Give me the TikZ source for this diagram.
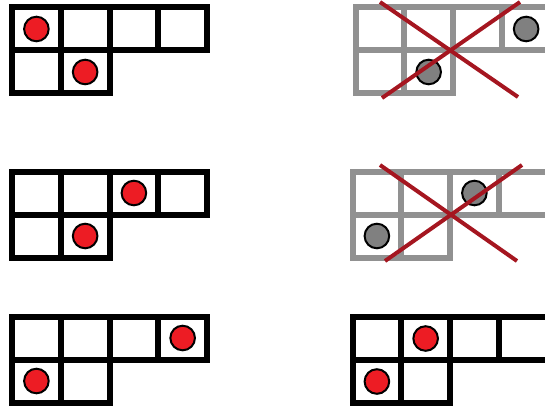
\documentclass[tikz,border=0pt]{standalone}
\begin{document}
\begin{tikzpicture}[x=1pt,y=-1pt,
  gridline/.style={line width=6pt,line join=miter,line cap=rect},
  dotred/.style={draw=black,line width=2pt,fill=dotfill},
  dotgray/.style={draw=black,line width=2pt,fill=dotgrayfill},
  cross/.style={draw=crossred,line width=4pt}]
\definecolor{dotfill}{RGB}{237,28,36}
\definecolor{dotgrayfill}{RGB}{128,128,128}
\definecolor{gridgray}{RGB}{145,145,145}
\definecolor{crossred}{RGB}{165,22,32}
\useasboundingbox (0,0) rectangle (545,409);
\newcommand{\myshape}[3]{%
  \begin{scope}[shift={(#1,#2)}]
  \draw[gridline,draw=#3] (0,0) -- (195,0) -- (195,43) -- (97.5,43) -- (97.5,86) -- (0,86) -- cycle;
  \draw[gridline,draw=#3] (0,43) -- (195,43);
  \draw[gridline,draw=#3] (48.75,0) -- (48.75,86);
  \draw[gridline,draw=#3] (97.5,0) -- (97.5,43);
  \draw[gridline,draw=#3] (146.25,0) -- (146.25,43);
  \end{scope}}
\newcommand{\mydot}[5]{%
  \draw[#5] ({#1+48.75*#3+24.4},{#2+43*#4+21.5}) circle (12.3);}
% top left
\myshape{12}{7.5}{black}
\mydot{12}{7.5}{0}{0}{dotred}
\mydot{12}{7.5}{1}{1}{dotred}
% top right
\myshape{355.5}{7.5}{gridgray}
\mydot{355.5}{7.5}{3}{0}{dotgray}
\mydot{355.5}{7.5}{1}{1}{dotgray}
\coordinate (b1) at (380,2);
\coordinate (b2) at (518,97);
\coordinate (b3) at (520,2);
\coordinate (b4) at (382,98);
\draw[cross] (b1) -- (b2);
\draw[cross] (b3) -- (b4);
% middle left
\myshape{12}{171.5}{black}
\mydot{12}{171.5}{2}{0}{dotred}
\mydot{12}{171.5}{1}{1}{dotred}
% middle right
\myshape{352.5}{171.5}{gridgray}
\mydot{352.5}{171.5}{2}{0}{dotgray}
\mydot{352.5}{171.5}{0}{1}{dotgray}
\coordinate (d1) at (380,165);
\coordinate (d2) at (517,261);
\coordinate (d3) at (522,165);
\coordinate (d4) at (385,261);
\draw[cross] (d1) -- (d2);
\draw[cross] (d3) -- (d4);
% bottom left
\myshape{12}{316.5}{black}
\mydot{12}{316.5}{3}{0}{dotred}
\mydot{12}{316.5}{0}{1}{dotred}
% bottom right
\myshape{352.5}{317}{black}
\mydot{352.5}{317}{1}{0}{dotred}
\mydot{352.5}{317}{0}{1}{dotred}
\end{tikzpicture}
\end{document}
